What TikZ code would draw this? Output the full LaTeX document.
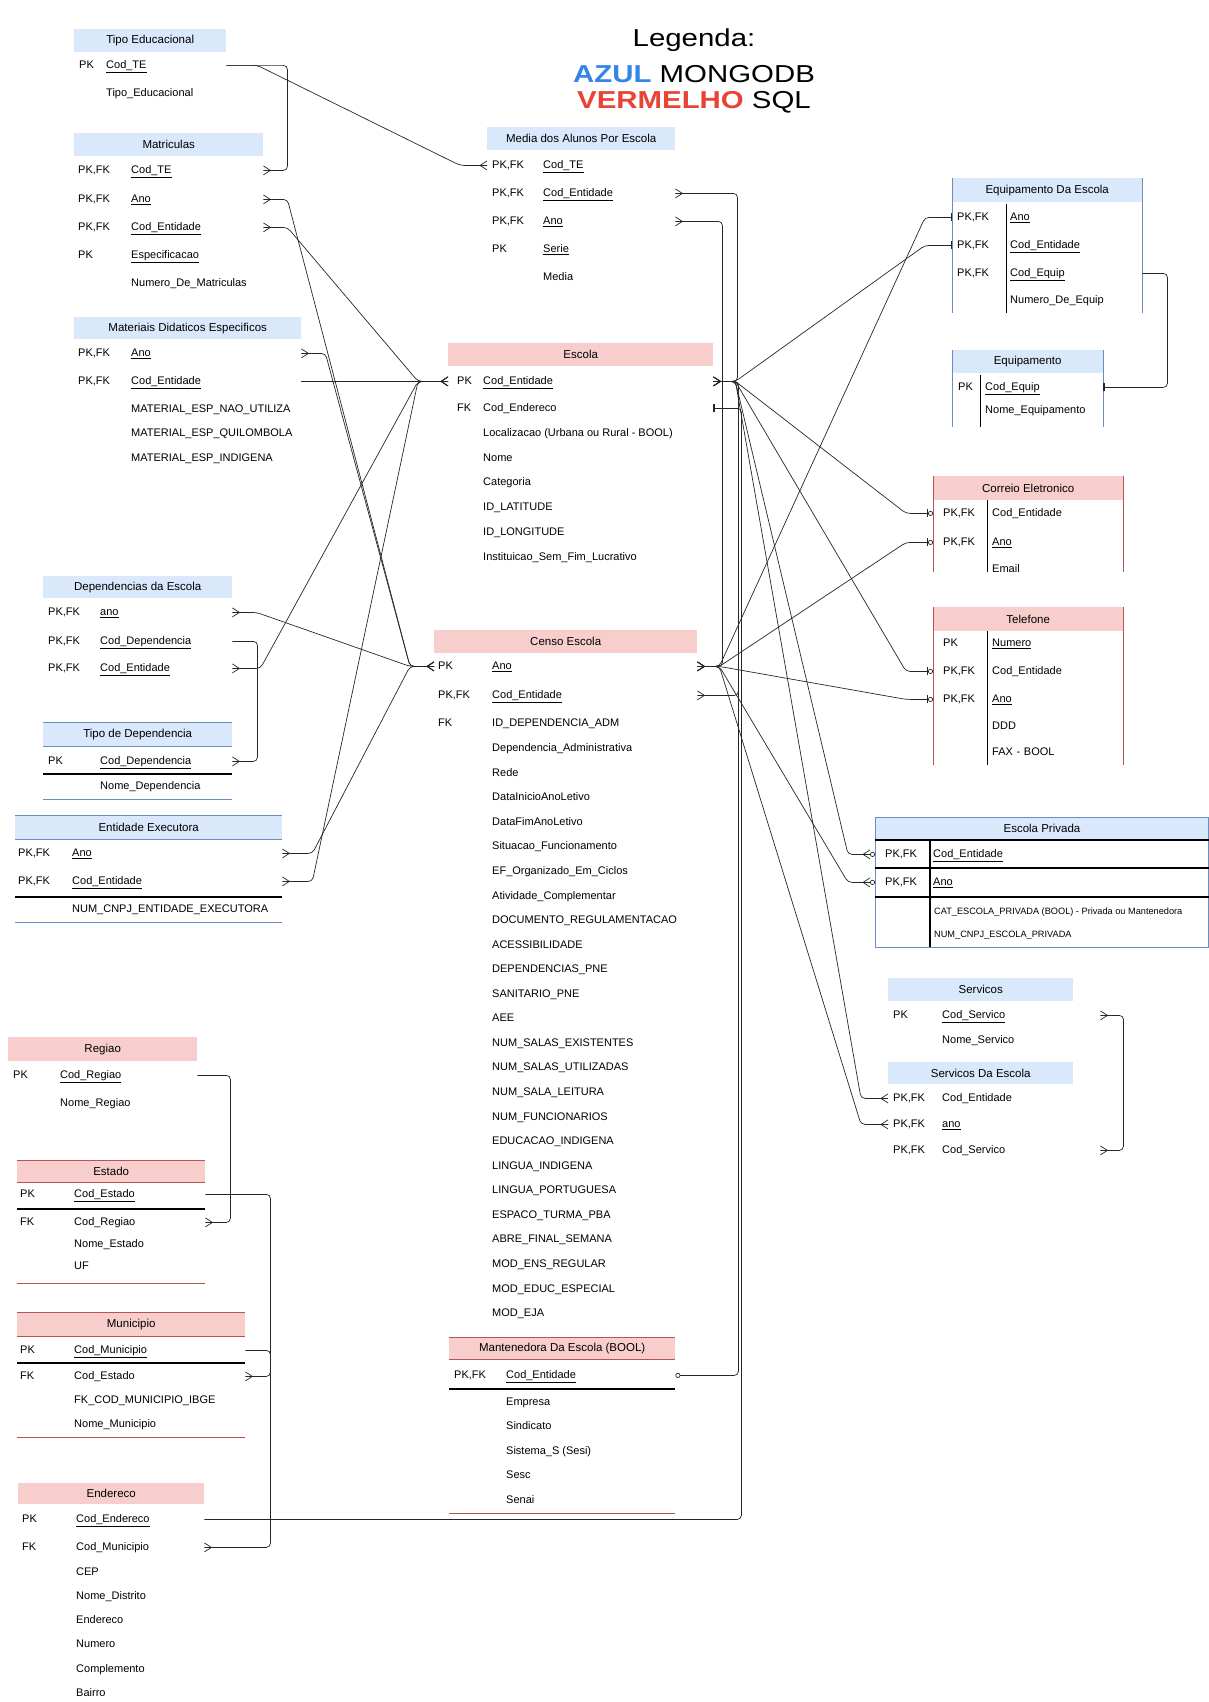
\documentclass[tikz,border=0pt]{standalone}
\usepackage{fontspec}
\setmainfont{Liberation Sans}
\usetikzlibrary{arrows.meta}

\definecolor{hdBlue}{RGB}{218,232,252}
\definecolor{hdRed}{RGB}{248,206,204}
\definecolor{lnBlue}{RGB}{108,142,191}
\definecolor{lnRed}{RGB}{184,84,80}
\definecolor{lgBlue}{RGB}{51,133,230}
\definecolor{lgRed}{RGB}{232,67,52}

\newcommand{\rowfont}{\fontsize{11}{13}\selectfont}
\newcommand{\hdfont}{\fontsize{11.5}{13}\selectfont}
% inset, key column width, key, field
\newcommand{\fld}[4]{\hspace*{#1pt}\makebox[#2pt][l]{#3}#4}

% crow's foot (many)
\pgfdeclarearrow{
  name = Crow,
  setup code = {
    \pgfarrowssettipend{0pt}
    \pgfarrowssetlineend{0pt}
    \pgfarrowssetbackend{-7pt}
    \pgfarrowshullpoint{0pt}{4.5pt}
    \pgfarrowshullpoint{0pt}{-4.5pt}
    \pgfarrowshullpoint{-7pt}{0pt}
  },
  drawing code = {
    \pgfsetdash{}{0pt}
    \pgfpathmoveto{\pgfqpoint{0pt}{4.5pt}}
    \pgfpathlineto{\pgfqpoint{-7pt}{0pt}}
    \pgfpathlineto{\pgfqpoint{0pt}{-4.5pt}}
    \pgfusepathqstroke
  }
}

\tikzstyle{headBlue} = [fill=hdBlue, anchor=north west, inner sep=0pt, minimum height=23pt, font=\hdfont]
\tikzstyle{headRed} = [fill=hdRed, anchor=north west, inner sep=0pt, minimum height=23pt, font=\hdfont]
\tikzstyle{fieldRow} = [anchor=west, inner xsep=0pt, inner ysep=1pt, text height=8.5pt, text depth=2.5pt, font=\rowfont, align=left]
\tikzstyle{attrList} = [anchor=north west, inner sep=0pt, align=left]
\tikzstyle{rel} = [draw=black!85, line width=0.7pt, rounded corners=4pt]
\tikzstyle{edgeBlue} = [draw=lnBlue, line width=1pt]
\tikzstyle{edgeRed} = [draw=lnRed, line width=1pt]
\tikzstyle{sepLine} = [draw=black, line width=1.1pt]
\tikzstyle{legText} = [anchor=base, inner sep=0pt, font=\fontsize{24.5}{28}\selectfont]

\begin{document}
\begin{tikzpicture}[x=1pt, y=-1pt]
	\useasboundingbox (0,0) rectangle (1209,1702);

	% Legenda
	\node (legTitle) [legText] at (694,47) {\scalebox{1.2}[1]{Legenda:}};
	\node (legBlue) [legText] at (694,82) {\scalebox{1.2}[1]{\textcolor{lgBlue}{\bfseries AZUL} MONGODB}};
	\node (legRed) [legText] at (694,108) {\scalebox{1.2}[1]{\textcolor{lgRed}{\bfseries VERMELHO} SQL}};

	% Tipo Educacional
	\node (teHead) [headBlue, minimum width=152pt] at (74,29) {Tipo Educacional};
	\path (teHead.south west)+(0,13) node (teCodTE) [fieldRow, text width=152pt] {\fld{5}{27}{PK}{\underline{Cod\_TE}}};
	\path (teCodTE.west)+(0,28) node (teTipo) [fieldRow, text width=152pt] {\fld{5}{27}{}{Tipo\_Educacional}};

	% Matriculas
	\node (matHead) [headBlue, minimum width=189pt] at (74,133) {Matriculas};
	\path (matHead.south west)+(0,14) node (matCodTE) [fieldRow, text width=189pt] {\fld{4}{53}{PK,FK}{\underline{Cod\_TE}}};
	\path (matCodTE.west)+(0,29) node (matAno) [fieldRow, text width=189pt] {\fld{4}{53}{PK,FK}{\underline{Ano}}};
	\path (matAno.west)+(0,28) node (matCodEnt) [fieldRow, text width=189pt] {\fld{4}{53}{PK,FK}{\underline{Cod\_Entidade}}};
	\path (matCodEnt.west)+(0,28) node (matEspec) [fieldRow, text width=189pt] {\fld{4}{53}{PK}{\underline{Especificacao}}};
	\path (matEspec.west)+(0,28) node (matNum) [fieldRow, text width=189pt] {\fld{4}{53}{}{Numero\_De\_Matriculas}};

	% Materiais Didaticos Especificos
	\node (mdeHead) [headBlue, minimum width=227pt, minimum height=22pt] at (74,317) {Materiais Didaticos Especificos};
	\path (mdeHead.south west)+(0,14) node (mdeAno) [fieldRow, text width=227pt] {\fld{4}{53}{PK,FK}{\underline{Ano}}};
	\path (mdeAno.west)+(0,28) node (mdeCodEnt) [fieldRow, text width=227pt] {\fld{4}{53}{PK,FK}{\underline{Cod\_Entidade}}};
	\path (mdeCodEnt.west)+(57,23) node (mdeAttrs) [attrList, font=\fontsize{11}{24.5}\selectfont] {MATERIAL\_ESP\_NAO\_UTILIZA\\MATERIAL\_ESP\_QUILOMBOLA\\MATERIAL\_ESP\_INDIGENA};

	% Media dos Alunos Por Escola
	\node (medHead) [headBlue, minimum width=188pt] at (487,127) {Media dos Alunos Por Escola};
	\path (medHead.south west)+(0,15) node (medCodTE) [fieldRow, text width=188pt] {\fld{5}{51}{PK,FK}{\underline{Cod\_TE}}};
	\path (medCodTE.west)+(0,28) node (medCodEnt) [fieldRow, text width=188pt] {\fld{5}{51}{PK,FK}{\underline{Cod\_Entidade}}};
	\path (medCodEnt.west)+(0,28) node (medAno) [fieldRow, text width=188pt] {\fld{5}{51}{PK,FK}{\underline{Ano}}};
	\path (medAno.west)+(0,28) node (medSerie) [fieldRow, text width=188pt] {\fld{5}{51}{PK}{\underline{Serie}}};
	\path (medSerie.west)+(0,28) node (medMedia) [fieldRow, text width=188pt] {\fld{5}{51}{}{Media}};

	% Escola
	\node (escHead) [headRed, minimum width=265pt] at (448,343) {Escola};
	\path (escHead.south west)+(0,15) node (escCodEnt) [fieldRow, text width=265pt] {\fld{9}{26}{PK}{\underline{Cod\_Entidade}}};
	\path (escCodEnt.west)+(0,27) node (escCodEnd) [fieldRow, text width=265pt] {\fld{9}{26}{FK}{Cod\_Endereco}};
	\path (escCodEnd.west)+(35,20) node (escAttrs) [attrList, font=\fontsize{11}{24.7}\selectfont] {Localizacao (Urbana ou Rural - BOOL)\\Nome\\Categoria\\ID\_LATITUDE\\ID\_LONGITUDE\\Instituicao\_Sem\_Fim\_Lucrativo};

	% Censo Escola
	\node (cenHead) [headRed, minimum width=263pt] at (434,630) {Censo Escola};
	\path (cenHead.south west)+(0,13) node (cenAno) [fieldRow, text width=263pt] {\fld{4}{54}{PK}{\underline{Ano}}};
	\path (cenAno.west)+(0,29) node (cenCodEnt) [fieldRow, text width=263pt] {\fld{4}{54}{PK,FK}{\underline{Cod\_Entidade}}};
	\path (cenCodEnt.west)+(0,28) node (cenIdDep) [fieldRow, text width=263pt] {\fld{4}{54}{FK}{ID\_DEPENDENCIA\_ADM}};
	\path (cenIdDep.west)+(58,20) node (cenAttrs) [attrList, font=\fontsize{11}{24.57}\selectfont] {Dependencia\_Administrativa\\Rede\\DataInicioAnoLetivo\\DataFimAnoLetivo\\Situacao\_Funcionamento\\EF\_Organizado\_Em\_Ciclos\\Atividade\_Complementar\\DOCUMENTO\_REGULAMENTACAO\\ACESSIBILIDADE\\DEPENDENCIAS\_PNE\\SANITARIO\_PNE\\AEE\\NUM\_SALAS\_EXISTENTES\\NUM\_SALAS\_UTILIZADAS\\NUM\_SALA\_LEITURA\\NUM\_FUNCIONARIOS\\EDUCACAO\_INDIGENA\\LINGUA\_INDIGENA\\LINGUA\_PORTUGUESA\\ESPACO\_TURMA\_PBA\\ABRE\_FINAL\_SEMANA\\MOD\_ENS\_REGULAR\\MOD\_EDUC\_ESPECIAL\\MOD\_EJA};

	% Equipamento Da Escola
	\node (equHead) [headBlue, minimum width=190pt, minimum height=24pt] at (952,178) {Equipamento Da Escola};
	\path (equHead.south west)+(0,15) node (equAno) [fieldRow, text width=190pt] {\fld{5}{53}{PK,FK}{\underline{Ano}}};
	\path (equAno.west)+(0,28) node (equCodEnt) [fieldRow, text width=190pt] {\fld{5}{53}{PK,FK}{\underline{Cod\_Entidade}}};
	\path (equCodEnt.west)+(0,28) node (equCodEquip) [fieldRow, text width=190pt] {\fld{5}{53}{PK,FK}{\underline{Cod\_Equip}}};
	\path (equCodEquip.west)+(0,27) node (equNum) [fieldRow, text width=190pt] {\fld{5}{53}{}{Numero\_De\_Equip}};
	\draw [edgeBlue] (952,178) -- (952,313);
	\draw [edgeBlue] (1142,178) -- (1142,313);
	\draw [black, line width=0.8pt] (1006,204) -- (1006,313);

	% Equipamento
	\node (eqpHead) [headBlue, minimum width=151pt] at (952,350) {Equipamento};
	\path (eqpHead.south west)+(0,14) node (eqpCodEquip) [fieldRow, text width=151pt] {\fld{6}{27}{PK}{\underline{Cod\_Equip}}};
	\path (eqpCodEquip.west)+(0,23) node (eqpNome) [fieldRow, text width=151pt] {\fld{6}{27}{}{Nome\_Equipamento}};
	\draw [edgeBlue] (952,350) -- (952,427);
	\draw [edgeBlue] (1103,350) -- (1103,427);
	\draw [black, line width=0.8pt] (980,375) -- (980,427);

	% Correio Eletronico
	\node (corHead) [headRed, minimum width=190pt, minimum height=24pt] at (933,476) {Correio Eletronico};
	\path (corHead.south west)+(0,13) node (corCodEnt) [fieldRow, text width=190pt] {\fld{10}{49}{PK,FK}{Cod\_Entidade}};
	\path (corCodEnt.west)+(0,29) node (corAno) [fieldRow, text width=190pt] {\fld{10}{49}{PK,FK}{\underline{Ano}}};
	\path (corAno.west)+(0,27) node (corEmail) [fieldRow, text width=190pt] {\fld{10}{49}{}{Email}};
	\draw [edgeRed] (933,476) -- (933,572);
	\draw [edgeRed] (1123,476) -- (1123,572);
	\draw [black, line width=0.8pt] (987,500) -- (987,572);

	% Telefone
	\node (telHead) [headRed, minimum width=190pt, minimum height=24pt] at (933,607) {Telefone};
	\path (telHead.south west)+(0,12) node (telNum) [fieldRow, text width=190pt] {\fld{10}{49}{PK}{\underline{Numero}}};
	\path (telNum.west)+(0,28) node (telCodEnt) [fieldRow, text width=190pt] {\fld{10}{49}{PK,FK}{Cod\_Entidade}};
	\path (telCodEnt.west)+(0,28) node (telAno) [fieldRow, text width=190pt] {\fld{10}{49}{PK,FK}{\underline{Ano}}};
	\path (telAno.west)+(0,27) node (telDDD) [fieldRow, text width=190pt] {\fld{10}{49}{}{DDD}};
	\path (telDDD.west)+(0,26) node (telFax) [fieldRow, text width=190pt] {\fld{10}{49}{}{FAX - BOOL}};
	\draw [edgeRed] (933,607) -- (933,765);
	\draw [edgeRed] (1123,607) -- (1123,765);
	\draw [black, line width=0.8pt] (987,631) -- (987,765);

	% Escola Privada
	\node (eprHead) [headBlue, minimum width=333.5pt] at (875,817) {Escola Privada};
	\path (eprHead.south west)+(0,14) node (eprCodEnt) [fieldRow, text width=333pt] {\fld{10}{48}{PK,FK}{\underline{Cod\_Entidade}}};
	\path (eprCodEnt.west)+(0,28) node (eprAno) [fieldRow, text width=333pt] {\fld{10}{48}{PK,FK}{\underline{Ano}}};
	\path (eprAno.west)+(59,25) node (eprAttrs) [attrList, font=\fontsize{9.2}{23}\selectfont] {CAT\_ESCOLA\_PRIVADA (BOOL) - Privada ou Mantenedora\\NUM\_CNPJ\_ESCOLA\_PRIVADA};
	\draw [edgeBlue] (875,817) rectangle (1208.5,947);
	\draw [sepLine] (875,840) -- (1208.5,840);
	\draw [sepLine] (875,868) -- (1208.5,868);
	\draw [sepLine] (875,897) -- (1208.5,897);
	\draw [sepLine] (930,840) -- (930,947);

	% Servicos
	\node (svcHead) [headBlue, minimum width=185pt] at (888,978) {Servicos};
	\path (svcHead.south west)+(0,14) node (svcCodSvc) [fieldRow, text width=212pt] {\fld{5}{49}{PK}{\underline{Cod\_Servico}}};
	\path (svcCodSvc.west)+(0,25) node (svcNome) [fieldRow, text width=212pt] {\fld{5}{49}{}{Nome\_Servico}};

	% Servicos Da Escola
	\node (sdeHead) [headBlue, minimum width=185pt, minimum height=22pt] at (888,1062) {Servicos Da Escola};
	\path (sdeHead.south west)+(0,14) node (sdeCodEnt) [fieldRow, text width=212pt] {\fld{5}{49}{PK,FK}{Cod\_Entidade}};
	\path (sdeCodEnt.west)+(0,26) node (sdeAno) [fieldRow, text width=212pt] {\fld{5}{49}{PK,FK}{\underline{ano}}};
	\path (sdeAno.west)+(0,26) node (sdeCodSvc) [fieldRow, text width=212pt] {\fld{5}{49}{PK,FK}{Cod\_Servico}};

	% Dependencias da Escola
	\node (depHead) [headBlue, minimum width=189pt, minimum height=22pt] at (43,576) {Dependencias da Escola};
	\path (depHead.south west)+(0,14) node (depAno) [fieldRow, text width=189pt] {\fld{5}{52}{PK,FK}{\underline{ano}}};
	\path (depAno.west)+(0,29) node (depCodDep) [fieldRow, text width=189pt] {\fld{5}{52}{PK,FK}{\underline{Cod\_Dependencia}}};
	\path (depCodDep.west)+(0,27) node (depCodEnt) [fieldRow, text width=189pt] {\fld{5}{52}{PK,FK}{\underline{Cod\_Entidade}}};

	% Tipo de Dependencia
	\node (tdHead) [headBlue, minimum width=189pt, minimum height=24pt] at (43,722) {Tipo de Dependencia};
	\path (tdHead.south west)+(0,15) node (tdCodDep) [fieldRow, text width=189pt] {\fld{5}{52}{PK}{\underline{Cod\_Dependencia}}};
	\path (tdCodDep.west)+(0,25) node (tdNome) [fieldRow, text width=189pt] {\fld{5}{52}{}{Nome\_Dependencia}};
	\draw [edgeBlue] (43,722) -- (232,722);
	\draw [edgeBlue] (43,746) -- (232,746);
	\draw [sepLine] (43,774) -- (232,774);
	\draw [edgeBlue] (43,799) -- (232,799);

	% Entidade Executora
	\node (eeHead) [headBlue, minimum width=267pt, minimum height=24pt] at (15,815) {Entidade Executora};
	\path (eeHead.south west)+(0,14) node (eeAno) [fieldRow, text width=267pt] {\fld{3}{54}{PK,FK}{\underline{Ano}}};
	\path (eeAno.west)+(0,28) node (eeCodEnt) [fieldRow, text width=267pt] {\fld{3}{54}{PK,FK}{\underline{Cod\_Entidade}}};
	\path (eeCodEnt.west)+(0,28) node (eeCnpj) [fieldRow, text width=267pt] {\fld{3}{54}{}{NUM\_CNPJ\_ENTIDADE\_EXECUTORA}};
	\draw [edgeBlue] (15,815) -- (282,815);
	\draw [edgeBlue] (15,839) -- (282,839);
	\draw [sepLine] (15,897) -- (282,897);
	\draw [edgeBlue] (15,922) -- (282,922);

	% Regiao
	\node (regHead) [headRed, minimum width=189pt, minimum height=24pt] at (8,1037) {Regiao};
	\path (regHead.south west)+(0,14) node (regCodReg) [fieldRow, text width=189pt] {\fld{5}{47}{PK}{\underline{Cod\_Regiao}}};
	\path (regCodReg.west)+(0,28) node (regNome) [fieldRow, text width=189pt] {\fld{5}{47}{}{Nome\_Regiao}};

	% Estado
	\node (estHead) [headRed, minimum width=188pt, minimum height=22pt] at (17,1160) {Estado};
	\path (estHead.south west)+(0,12) node (estCodEst) [fieldRow, text width=188pt] {\fld{3}{54}{PK}{\underline{Cod\_Estado}}};
	\path (estCodEst.west)+(0,28) node (estCodReg) [fieldRow, text width=188pt] {\fld{3}{54}{FK}{Cod\_Regiao}};
	\path (estCodReg.west)+(57,17) node (estAttrs) [attrList, font=\fontsize{11}{22}\selectfont] {Nome\_Estado\\UF};
	\draw [edgeRed] (17,1160) -- (205,1160);
	\draw [edgeRed] (17,1182) -- (205,1182);
	\draw [sepLine] (17,1209) -- (205,1209);
	\draw [edgeRed] (17,1283) -- (205,1283);

	% Municipio
	\node (munHead) [headRed, minimum width=228pt, minimum height=24pt] at (17,1312) {Municipio};
	\path (munHead.south west)+(0,14) node (munCodMun) [fieldRow, text width=228pt] {\fld{3}{54}{PK}{\underline{Cod\_Municipio}}};
	\path (munCodMun.west)+(0,26) node (munCodEst) [fieldRow, text width=228pt] {\fld{3}{54}{FK}{Cod\_Estado}};
	\path (munCodEst.west)+(57,19) node (munAttrs) [attrList, font=\fontsize{11}{24}\selectfont] {FK\_COD\_MUNICIPIO\_IBGE\\Nome\_Municipio};
	\draw [edgeRed] (17,1312) -- (245,1312);
	\draw [edgeRed] (17,1336) -- (245,1336);
	\draw [sepLine] (17,1363) -- (245,1363);
	\draw [edgeRed] (17,1437) -- (245,1437);

	% Mantenedora Da Escola
	\node (manHead) [headRed, minimum width=226pt, minimum height=22pt] at (449,1337) {Mantenedora Da Escola (BOOL)};
	\path (manHead.south west)+(0,16) node (manCodEnt) [fieldRow, text width=226pt] {\fld{5}{52}{PK,FK}{\underline{Cod\_Entidade}}};
	\path (manCodEnt.west)+(57,22) node (manAttrs) [attrList, font=\fontsize{11}{24.5}\selectfont] {Empresa\\Sindicato\\Sistema\_S (Sesi)\\Sesc\\Senai};
	\draw [edgeRed] (449,1337) -- (675,1337);
	\draw [edgeRed] (449,1359) -- (675,1359);
	\draw [sepLine] (449,1389) -- (675,1389);
	\draw [edgeRed] (449,1513) -- (675,1513);

	% Endereco
	\node (endHead) [headRed, minimum width=186pt, minimum height=21pt] at (18,1483) {Endereco};
	\path (endHead.south west)+(0,15) node (endCodEnd) [fieldRow, text width=186pt] {\fld{4}{54}{PK}{\underline{Cod\_Endereco}}};
	\path (endCodEnd.west)+(0,28) node (endCodMun) [fieldRow, text width=186pt] {\fld{4}{54}{FK}{Cod\_Municipio}};
	\path (endCodMun.west)+(58,20) node (endAttrs) [attrList, font=\fontsize{11}{24.2}\selectfont] {CEP\\Nome\_Distrito\\Endereco\\Numero\\Complemento\\Bairro};

	% Tipo Educacional links
	\path [rel, -{Crow}] (teCodTE.east) -- ++(31,0) -- ([xshift=-27pt]medCodTE.west) -- (medCodTE.west);
	\path [rel, -{Crow}] (teCodTE.east) -- ++(61,0) |- (matCodTE.east);

	% links to Escola.Cod_Entidade (left side)
	\path [rel, {Crow}-{Crow}] (matCodEnt.east) -- ++(24,0) -- ([xshift=-30pt]escCodEnt.west) -- (escCodEnt.west);
	\path [rel, -{Crow}] (mdeCodEnt.east) -- ++(24,0) -- ([xshift=-30pt]escCodEnt.west) -- (escCodEnt.west);
	\path [rel, {Crow}-{Crow}] (depCodEnt.east) -- ++(28,0) -- ([xshift=-30pt]escCodEnt.west) -- (escCodEnt.west);
	\path [rel, {Crow}-{Crow}] (eeCodEnt.east) -- ++(30,0) -- ([xshift=-30pt]escCodEnt.west) -- (escCodEnt.west);

	% links to Censo Escola.Ano (left side)
	\path [rel, {Crow}-{Crow}] (matAno.east) -- ++(24,0) -- ([xshift=-24pt]cenAno.west) -- (cenAno.west);
	\path [rel, {Crow}-{Crow}] (mdeAno.east) -- ++(24,0) -- ([xshift=-24pt]cenAno.west) -- (cenAno.west);
	\path [rel, {Crow}-{Crow}] (depAno.east) -- ++(24,0) -- ([xshift=-24pt]cenAno.west) -- (cenAno.west);
	\path [rel, {Crow}-{Crow}] (eeAno.east) -- ++(30,0) -- ([xshift=-24pt]cenAno.west) -- (cenAno.west);

	% Media links
	\path [rel, {Crow}-] (medCodEnt.east) -- ++(62,0) |- (escCodEnt.east);
	\path [rel, {Crow}-] (medAno.east) -- ++(47,0) |- (cenAno.east);

	% Escola.Cod_Entidade (right side)
	\path [rel, {Crow}-{Bar[width=8pt]}] (escCodEnt.east) -- ++(22,0) -- ([xshift=-27pt]equCodEnt.west) -- (equCodEnt.west);
	\path [rel, {Crow}-{Bar[width=8pt] Circle[open,length=5pt]}] (escCodEnt.east) -- ++(22,0) -- ([xshift=-27pt]corCodEnt.west) -- (corCodEnt.west);
	\path [rel, {Crow}-{Bar[width=8pt] Circle[open,length=5pt]}] (escCodEnt.east) -- ++(22,0) -- ([xshift=-27pt]telCodEnt.west) -- (telCodEnt.west);
	\path [rel, {Crow}-{Crow[] Circle[open,length=5pt]}] (escCodEnt.east) -- ++(22,0) -- ([xshift=-27pt]eprCodEnt.west) -- (eprCodEnt.west);
	\path [rel, {Crow}-{Crow}] (escCodEnt.east) -- ++(22,0) -- ([xshift=-27pt]sdeCodEnt.west) -- (sdeCodEnt.west);

	% Censo Escola.Ano (right side)
	\path [rel, {Crow}-{Bar[width=8pt]}] (cenAno.east) -- ++(22,0) -- ([xshift=-27pt]equAno.west) -- (equAno.west);
	\path [rel, {Crow}-{Bar[width=8pt] Circle[open,length=5pt]}] (cenAno.east) -- ++(22,0) -- ([xshift=-27pt]corAno.west) -- (corAno.west);
	\path [rel, {Crow}-{Bar[width=8pt] Circle[open,length=5pt]}] (cenAno.east) -- ++(22,0) -- ([xshift=-27pt]telAno.west) -- (telAno.west);
	\path [rel, {Crow}-{Crow[] Circle[open,length=5pt]}] (cenAno.east) -- ++(22,0) -- ([xshift=-27pt]eprAno.west) -- (eprAno.west);
	\path [rel, {Crow}-{Crow}] (cenAno.east) -- ++(22,0) -- ([xshift=-27pt]sdeAno.west) -- (sdeAno.west);

	% other links
	\path [rel, {Crow}-] (cenCodEnt.east) -- ++(41,0) |- (escCodEnt.east);
	\path [rel, {Bar[width=8pt] Bar[width=8pt]}-] (escCodEnd.east) -- ++(28,0) |- (endCodEnd.east);
	\path [rel, {Circle[open,length=5pt]}-] (manCodEnt.east) -- ++(63,0) |- (escCodEnt.east);
	\path [rel, -{Bar[width=8pt] Bar[width=8pt]}] (equCodEquip.east) -- ++(25,0) |- (eqpCodEquip.east);
	\path [rel, {Crow}-{Crow}] (svcCodSvc.east) -- ++(23,0) |- (sdeCodSvc.east);
	\path [rel, -{Crow}] (depCodDep.east) -- ++(25,0) |- (tdCodDep.east);
	\path [rel, -{Crow}] (regCodReg.east) -- ++(33,0) |- (estCodReg.east);
	\path [rel, -{Crow}] (estCodEst.east) -- ++(65,0) |- (munCodEst.east);
	\path [rel, -{Crow}] (munCodMun.east) -- ++(25,0) |- (endCodMun.east);

\end{tikzpicture}
\end{document}
